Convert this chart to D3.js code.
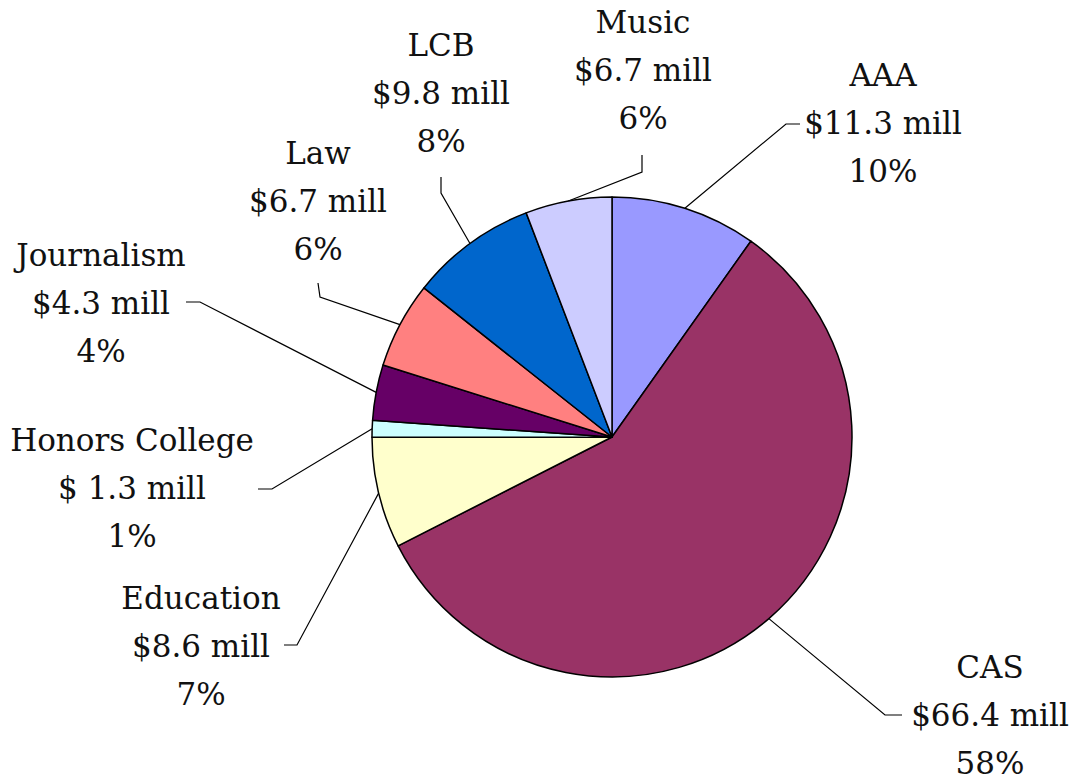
<!DOCTYPE html>
<html>
<head>
<meta charset="utf-8">
<script src="https://cdn.jsdelivr.net/npm/d3@7"></script>
<style>
  html, body { margin: 0; padding: 0; background: #ffffff; }
  svg { display: block; }
  text { font-family: "DejaVu Serif", serif; fill: #111; }
</style>
</head>
<body>
<svg id="chart" width="1076" height="782"></svg>
<script>
// ---- data ----
const categories = ["AAA", "CAS", "Education", "Honors College", "Journalism", "Law", "LCB", "Music"];
const amounts = [11.3, 66.4, 8.6, 1.3, 4.3, 6.7, 9.8, 6.7];           // $ million
const amountLabels = ["$11.3 mill", "$66.4 mill", "$8.6 mill", "$ 1.3 mill", "$4.3 mill", "$6.7 mill", "$9.8 mill", "$6.7 mill"];
const percentLabels = ["10%", "58%", "7%", "1%", "4%", "6%", "8%", "6%"];
const colors = ["#9999FF", "#993366", "#FFFFCC", "#CCFFFF", "#660066", "#FF8080", "#0066CC", "#CCCCFF"];

// ---- layout (label placement) ----
const layout = {
  cx: 612, cy: 437, r: 240, lineGap: 48, fontSize: 31,
  labels: {
    "AAA":            { x: 883, y: 75,  elbow: [786, 124], end: [800, 124] },
    "CAS":            { x: 990, y: 667, elbow: [885, 715], end: [902, 715] },
    "Education":      { x: 201, y: 598, elbow: [297, 645], end: [284, 645] },
    "Honors College": { x: 132, y: 440, elbow: [272, 489], end: [258, 489] },
    "Journalism":     { x: 101, y: 255, elbow: [200, 302], end: [186, 302] },
    "Law":            { x: 318, y: 153, elbow: [320, 297], end: [318, 283] },
    "LCB":            { x: 441, y: 45,  elbow: [441, 193], end: [441, 177] },
    "Music":          { x: 643, y: 22,  elbow: [642, 172], end: [642, 155] }
  }
};

const data = categories.map((c, i) => ({
  name: c, value: amounts[i], amount: amountLabels[i], pct: percentLabels[i], color: colors[i]
}));

const svg = d3.select("#chart");
const g = svg.append("g").attr("transform", `translate(${layout.cx},${layout.cy})`);

const pie = d3.pie().value(d => d.value).sort(null).startAngle(0).endAngle(2 * Math.PI);
const arcs = pie(data);
const arc = d3.arc().innerRadius(0).outerRadius(layout.r);

g.selectAll("path.slice")
  .data(arcs)
  .enter().append("path")
  .attr("class", "slice")
  .attr("d", arc)
  .attr("fill", d => d.data.color)
  .attr("stroke", "#000")
  .attr("stroke-width", 1.5)
  .attr("stroke-linejoin", "round");

// leader lines
const line = d3.line();
svg.selectAll("path.leader")
  .data(arcs)
  .enter().append("path")
  .attr("class", "leader")
  .attr("d", d => {
    const L = layout.labels[d.data.name];
    const mid = (d.startAngle + d.endAngle) / 2;
    const p0 = [layout.cx + layout.r * Math.sin(mid), layout.cy - layout.r * Math.cos(mid)];
    return line([p0, L.elbow, L.end]);
  })
  .attr("fill", "none")
  .attr("stroke", "#000")
  .attr("stroke-width", 1.2);

// labels
const lbl = svg.selectAll("g.label")
  .data(arcs)
  .enter().append("g")
  .attr("class", "label")
  .attr("transform", d => {
    const L = layout.labels[d.data.name];
    return `translate(${L.x},${L.y})`;
  });

lbl.each(function(d) {
  const sel = d3.select(this);
  [d.data.name, d.data.amount, d.data.pct].forEach((t, i) => {
    sel.append("text")
      .attr("x", 0)
      .attr("y", i * layout.lineGap)
      .attr("text-anchor", "middle")
      .attr("dominant-baseline", "central")
      .attr("font-size", layout.fontSize)
      .text(t);
  });
});
</script>
</body>
</html>
